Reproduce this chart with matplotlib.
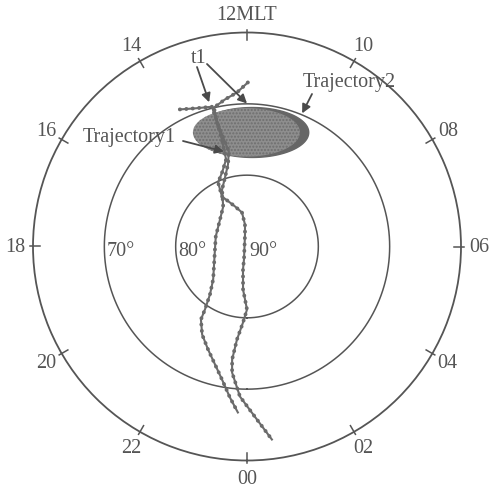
"""Polar MLT dial with two convection trajectories and the cusp oval."""

import numpy as np
import matplotlib.pyplot as plt

plt.rcParams['font.family'] = 'Liberation Serif'

# dial labels (magnetic local time, hours)
mlt_ticks = [0, 2, 4, 6, 8, 10, 12, 14, 16, 18, 20, 22]
mlt_labels = ['00', '02', '04', '06', '08', '10', '12MLT', '14', '16', '18', '20', '22']

# latitude rings and their labels
ring_lats = [80, 70]
lat_label_vals = [90, 80, 70]
lat_labels = ['90°', '80°', '70°']

# trajectory 1 (MLT hours, MLAT degrees)
traj1_mlt = [13.74, 13.38, 12.94, 12.89, 12.81, 12.72, 12.87, 13.18, 13.58, 14.06,
             15.00, 16.81, 18.71, 20.94, 21.49, 21.75, 21.85, 22.20, 22.62, 22.99,
             23.29, 23.57, 23.79]
traj1_lat = [68.6, 69.3, 69.8, 72.4, 74.7, 76.4, 78.2, 79.85, 81.3, 83.5,
             84.65, 85.4, 85.4, 83.4, 81.5, 79.4, 77.9, 76.15, 74.56, 72.86,
             71.03, 68.7, 66.7]

# trajectory 2
traj2_mlt = [11.98, 12.25, 12.57, 12.89, 12.91, 12.88, 12.90, 13.24, 13.62, 13.77,
             13.11, 12.56, 12.35, 12.63, 23.13, 23.34, 23.65, 0.00, 23.80, 23.59,
             23.50, 23.55, 23.82, 0.22, 0.49]
traj2_lat = [67.0, 68.37, 69.16, 69.97, 71.67, 74.6, 77.45, 79.05, 80.15, 82.16,
             84.14, 85.18, 86.9, 88.29, 88.13, 86.73, 83.95, 81.17, 79.33, 76.89,
             74.02, 72.21, 68.95, 65.7, 62.72]

# cusp oval: centre (MLT, MLAT), full width / height in degrees
oval_outer = (11.82, 74.0, 15.8, 7.0)
oval_inner = (12.02, 74.0, 15.0, 6.8)

# arrow tips (MLT, MLAT)
t1_tips = [(12.98, 69.1), (12.0, 69.95)]
traj1_tip = (12.91, 76.3)
traj2_tip = (10.50, 69.8)

GRAY = '#555555'
TRACK = '#6b6b6b'
FS = 14.5


def to_polar(mlt, lat):
    theta = np.unwrap(np.asarray(mlt, dtype=float) * np.pi / 12)
    return theta, 90 - np.asarray(lat, dtype=float)


def oval(mlt, lat, w, h, n=240):
    th0, r0 = mlt * np.pi / 12, 90 - lat
    xc, yc = r0 * np.sin(th0), -r0 * np.cos(th0)
    t = np.linspace(0, 2 * np.pi, n)
    x = xc + w / 2 * np.cos(t)
    y = yc + h / 2 * np.sin(t)
    return np.unwrap(np.arctan2(x, -y)), np.hypot(x, y)


def point(mlt, lat):
    return mlt * np.pi / 12, 90 - lat


fig = plt.figure(figsize=(4.91, 4.89), dpi=100)
ax = fig.add_axes([33 / 491, 27.5 / 489, 428 / 491, 428 / 489], projection='polar')
ax.set_theta_zero_location('S')
ax.set_theta_direction(1)
ax.set_rlim(0, 30)
ax.grid(False)
ax.set_yticks([])
ax.set_xticks([])
ax.spines['polar'].set_color(GRAY)
ax.spines['polar'].set_linewidth(1.3)

# hour ticks on the outer ring
for h in mlt_ticks:
    th = h * np.pi / 12
    ax.plot([th, th], [29.0, 30.4], color=GRAY, lw=1.1, clip_on=False)

# latitude rings
circ = np.linspace(0, 2 * np.pi, 361)
for lat in ring_lats:
    ax.plot(circ, np.full_like(circ, 90 - lat), color=GRAY, lw=1.1)

# MLT labels
for h, lab in zip(mlt_ticks, mlt_labels):
    ax.text(h * np.pi / 12, 32.5, lab, ha='center', va='center',
            fontsize=FS, color=GRAY)

# latitude labels on the 18 MLT side
for lat, lab in zip(lat_label_vals, lat_labels):
    ax.annotate(lab, xy=(18 * np.pi / 12, 90 - lat), xytext=(2, -3),
                textcoords='offset points', ha='left', va='center',
                fontsize=FS, color=GRAY)

# cusp oval
th, r = oval(*oval_outer)
ax.fill(th, r, color='#666666', zorder=2)
th, r = oval(*oval_inner)
ax.fill(th, r, facecolor='#8e8e8e', edgecolor='#6e6e6e', hatch='.....', lw=0, zorder=2)

# trajectories: thin line plus dotted overlay
for mlt, lat in [(traj1_mlt, traj1_lat), (traj2_mlt, traj2_lat)]:
    th, r = to_polar(mlt, lat)
    ax.plot(th, r, color=TRACK, lw=1.5, zorder=3)
    ax.plot(th, r, color=TRACK, lw=2.8, ls=(0, (0.05, 1.6)),
            dash_capstyle='round', zorder=3)

arrow = dict(arrowstyle='-|>', color='#4a4a4a', lw=1.3, mutation_scale=13,
             shrinkA=0, shrinkB=0)

# labels with arrows (text positions in figure pixels)
ax.text(199, 430, 't1', transform=None, ha='center', va='center',
        fontsize=FS, color=GRAY)
ax.annotate('', xy=point(*t1_tips[0]), xytext=(197, 421),
            textcoords='figure pixels', arrowprops=arrow, zorder=4)
ax.annotate('', xy=point(*t1_tips[1]), xytext=(207, 424),
            textcoords='figure pixels', arrowprops=arrow, zorder=4)

ax.text(129.5, 351, 'Trajectory1', transform=None, ha='center', va='center',
        fontsize=FS, color=GRAY)
ax.annotate('', xy=point(*traj1_tip), xytext=(183, 347),
            textcoords='figure pixels', arrowprops=arrow, zorder=4)

ax.text(349.5, 406, 'Trajectory2', transform=None, ha='center', va='center',
        fontsize=FS, color=GRAY)
ax.annotate('', xy=point(*traj2_tip), xytext=(312, 394),
            textcoords='figure pixels', arrowprops=arrow, zorder=4)

fig.savefig('out.png', dpi=100)
